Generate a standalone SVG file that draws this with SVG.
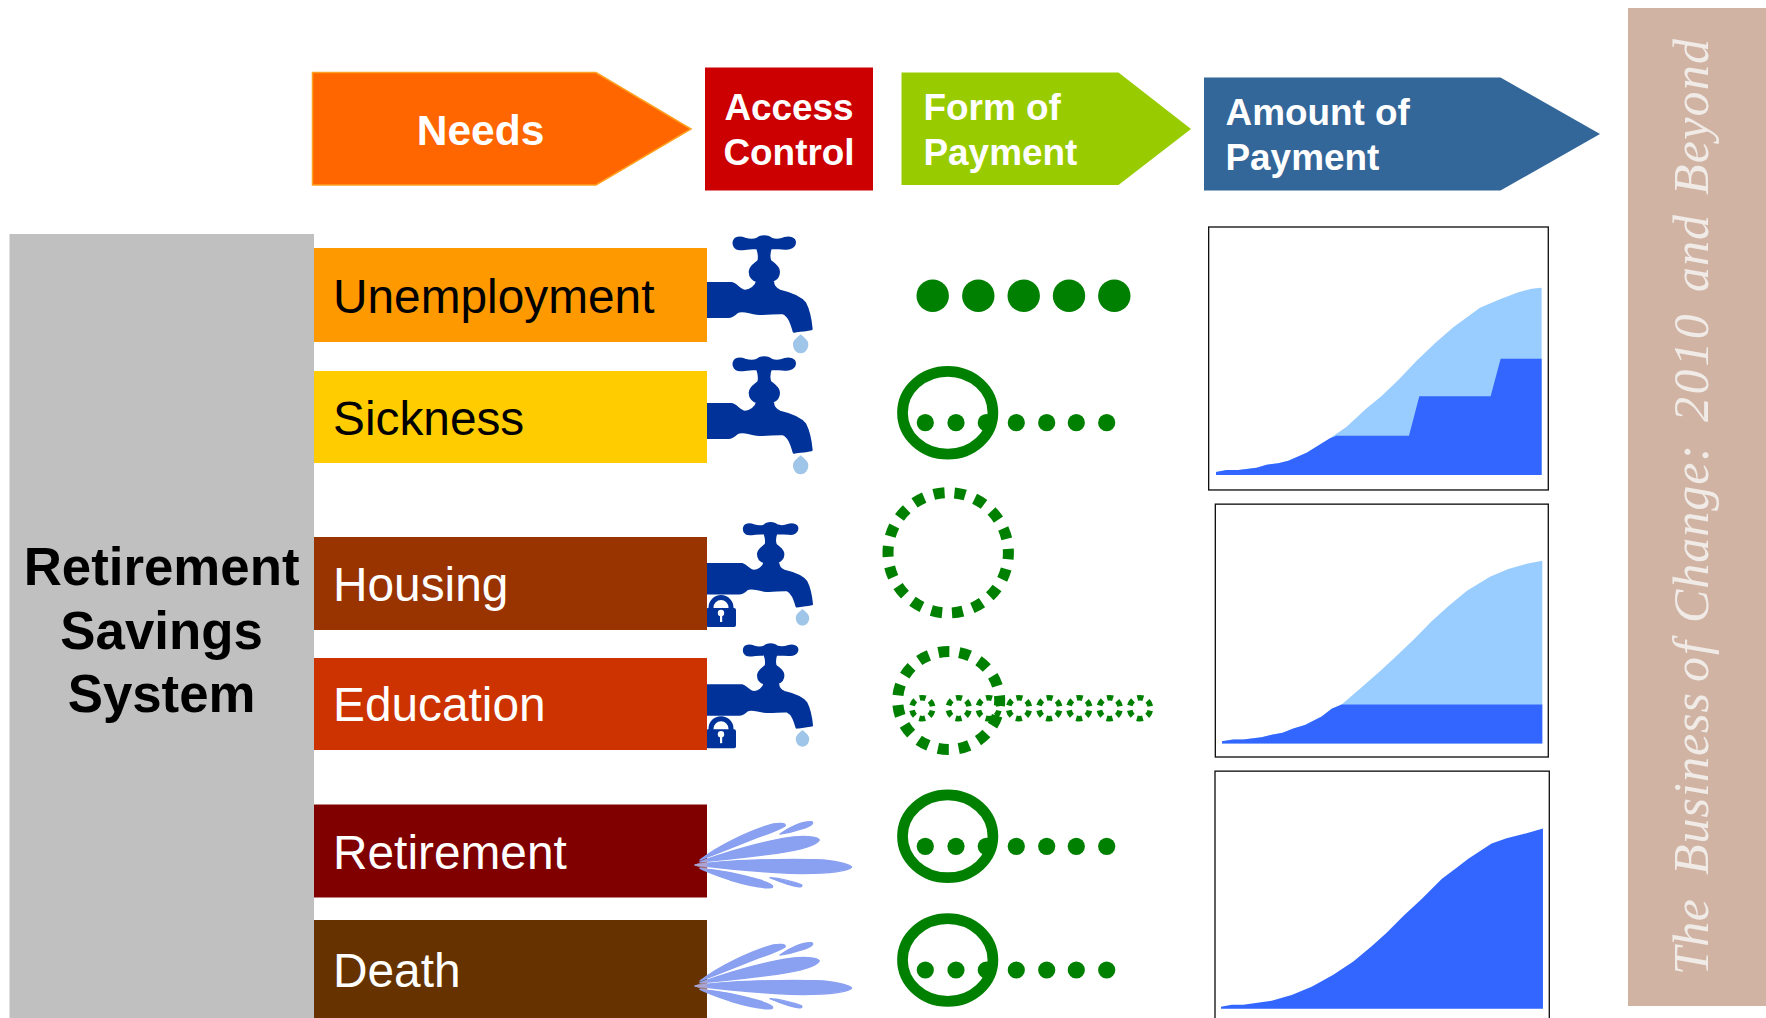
<svg xmlns="http://www.w3.org/2000/svg" xmlns:xlink="http://www.w3.org/1999/xlink" width="1766" height="1018" viewBox="0 0 1766 1018">
<style>
.h{font-family:"Liberation Sans",Arial,sans-serif;font-weight:700;font-size:36.9px;fill:#fff}
.r{font-family:"Liberation Sans",Arial,sans-serif;font-size:47.8px}
.w{fill:#fff}.k{fill:#000}
.frame{fill:#fff;stroke:#111;stroke-width:4}
.lt{fill:#9cf}.dk{fill:#36f}
.g{fill:#008000}
.ring{fill:none;stroke:#008000;stroke-width:10.7}
.dash{fill:none;stroke:#008000;stroke-width:11}
.sd{fill:none;stroke:#008000;stroke-width:5.6;stroke-dasharray:6 5;stroke-dashoffset:8.5}
</style>
<defs>
<filter id="soft" x="-10%" y="-10%" width="120%" height="120%"><feGaussianBlur stdDeviation="0.7"/></filter>
<g id="tap">
<path fill="#003399" stroke="#003399" stroke-width="8" stroke-linejoin="round" filter="url(#soft)" d="M-25,175 L95,175 C110,178 120,198 135,198 C150,198 170,185 172,168 C160,165 150,155 150,140 C150,125 165,118 176,108 C180,95 178,85 172,68 C150,68 135,72 120,72 C105,72 100,60 102,50 C105,38 120,36 135,42 C150,47 165,45 172,42 C180,32 205,32 214,42 C225,46 240,46 255,40 C270,36 284,42 284,52 C284,65 270,72 255,70 C240,68 225,68 212,68 C206,85 205,95 210,108 C222,118 236,125 236,140 C236,155 228,162 218,166 C218,180 222,192 240,198 C270,205 300,215 315,235 C328,260 332,290 334,312 C320,315 295,317 282,319 C275,295 268,272 250,264 C225,262 200,268 170,265 C145,262 125,250 110,262 C100,272 95,275 85,275 L-25,275 Z"/>
<path fill="#9fc5e8" filter="url(#soft)" d="M302,328 C312,338 325,345 325,358 C325,375 314,385 302,385 C290,385 279,375 279,358 C279,345 292,338 302,328 Z"/>
</g>
<g id="lock" filter="url(#soft)">
<path fill="none" stroke="#003399" stroke-width="5" d="M711,612 V607.5 a10,10 0 0 1 20,0 V612"/>
<rect x="706" y="608" width="30" height="19" rx="2" fill="#003399"/>
<circle cx="721" cy="613" r="3.2" fill="#fff"/>
<rect x="720" y="613" width="2.2" height="9" fill="#fff"/>
</g>
<g id="spray">
<g fill="#8aa0f0" stroke="#8aa0f0" stroke-width="4" stroke-linejoin="round" filter="url(#soft)">
<path d="M15,165 C100,150 300,145 400,150 C450,155 485,165 485,172 C470,185 400,192 300,190 C200,185 100,175 15,165 Z"/>
<path d="M30,155 C100,130 200,100 280,85 C340,75 385,80 388,90 C380,105 330,120 260,130 C180,140 100,150 30,155 Z"/>
<path d="M30,150 C80,110 180,60 250,42 C270,38 290,40 285,48 C270,60 220,75 170,95 C120,115 70,135 30,150 Z"/>
<path d="M270,72 C300,50 340,33 365,35 C375,40 360,50 330,58 C310,65 290,70 270,72 Z"/>
<path d="M30,175 C90,180 160,195 210,210 C240,220 255,228 245,233 C220,235 170,225 120,210 C85,198 50,185 30,175 Z"/>
<path d="M240,203 C270,205 310,215 335,225 C340,232 320,232 300,225 C280,218 255,210 240,203 Z"/>
</g>
<path d="M12,165 L52,148 L52,182 Z" fill="#b8a8c8" opacity=".65" filter="url(#soft)"/>
</g>
<g id="ringdots">
<ellipse class="ring" cx="947.7" cy="0" rx="45.2" ry="41.4"/>
<circle class="g" cx="925.3" cy="10" r="8.6"/>
<circle class="g" cx="956" cy="10" r="8.6"/>
<circle class="g" cx="986.3" cy="10" r="8.6"/>
<circle class="g" cx="1016.3" cy="10" r="8.6"/>
<circle class="g" cx="1046.7" cy="10" r="8.6"/>
<circle class="g" cx="1076.3" cy="10" r="8.6"/>
<circle class="g" cx="1106.7" cy="10" r="8.6"/>
</g>
</defs>
<rect width="1766" height="1018" fill="#fff"/>

<g id="tap-unemployment"><use href="#tap" transform="translate(700,225) scale(.3333)"/></g>
<g id="tap-sickness"><use href="#tap" transform="translate(700,346) scale(.3333)"/></g>
<g id="tap-housing"><use href="#tap" transform="translate(714.4,513.2) scale(.2917)"/><use href="#lock"/></g>
<g id="tap-education"><use href="#tap" transform="translate(714.4,634.4) scale(.2917)"/><use href="#lock" transform="translate(0,121.2)"/></g>

<g id="system">
<rect x="9.5" y="234" width="304.5" height="784" fill="#c0c0c0"/>
<text font-family="'Liberation Sans',Arial,sans-serif" font-weight="700" font-size="52.8" text-anchor="middle" fill="#000"><tspan x="161.6" y="584.5">Retirement</tspan><tspan x="161.6" y="648.5">Savings</tspan><tspan x="161.6" y="712">System</tspan></text>
</g>

<g id="header-needs"><path d="M312.5,72.5 H596 L691,129 L596,185 H312.5 Z" fill="#f60" stroke="#ffa020" stroke-width="1.5"/><text class="h" style="font-size:42.5px" x="480.5" y="145" text-anchor="middle">Needs</text></g>
<g id="header-access"><rect x="705" y="67.5" width="168" height="123" fill="#c00"/><text class="h" text-anchor="middle"><tspan x="789" y="120">Access</tspan><tspan x="789" y="165">Control</tspan></text></g>
<g id="header-form"><path d="M901.5,72.5 H1118.5 L1191,129 L1118.5,185 H901.5 Z" fill="#9c0"/><text class="h"><tspan x="923.5" y="120">Form of</tspan><tspan x="923.5" y="165">Payment</tspan></text></g>
<g id="header-amount"><path d="M1204,77.5 H1500.5 L1600,134 L1500.5,190.5 H1204 Z" fill="#369"/><text class="h"><tspan x="1225.5" y="125">Amount of</tspan><tspan x="1225.5" y="170">Payment</tspan></text></g>

<g id="need-unemployment"><rect x="314" y="248" width="393" height="94" fill="#f90"/><text class="r k" x="333" y="313">Unemployment</text></g>
<g id="need-sickness"><rect x="314" y="371" width="393" height="92" fill="#fc0"/><text class="r k" x="333" y="434.8">Sickness</text></g>
<g id="need-housing"><rect x="314" y="537" width="393" height="93" fill="#930"/><text class="r w" x="333" y="600.7">Housing</text></g>
<g id="need-education"><rect x="314" y="658" width="393" height="92" fill="#c30"/><text class="r w" x="333" y="721">Education</text></g>
<g id="need-retirement"><rect x="314" y="804.5" width="393" height="93" fill="#800000"/><text class="r w" x="333" y="869">Retirement</text></g>
<g id="need-death"><rect x="314" y="920" width="393" height="98" fill="#630"/><text class="r w" x="333" y="987">Death</text></g>

<g id="spray-retirement"><use href="#spray" transform="translate(690,810) scale(.3333)"/></g>
<g id="spray-death"><use href="#spray" transform="translate(690,931) scale(.3333)"/></g>

<g id="payment-unemployment">
<circle class="g" cx="932.7" cy="295.7" r="16.2"/><circle class="g" cx="978.3" cy="295.7" r="16.2"/><circle class="g" cx="1023.7" cy="295.7" r="16.2"/><circle class="g" cx="1069" cy="295.7" r="16.2"/><circle class="g" cx="1114.3" cy="295.7" r="16.2"/>
</g>
<g id="payment-sickness"><use href="#ringdots" y="412.7"/></g>
<g id="payment-housing"><circle class="dash" cx="948.2" cy="552.8" r="60.2" stroke-dasharray="11 10" stroke-dashoffset="4.45"/></g>
<g id="payment-education">
<ellipse class="dash" cx="948.7" cy="700.5" rx="51" ry="49" stroke-dasharray="11 9.95" stroke-dashoffset="5.5"/>
<circle class="sd" cx="922.3" cy="708.2" r="10.5"/><circle class="sd" cx="958.7" cy="708.2" r="10.5"/><circle class="sd" cx="988.7" cy="708.2" r="10.5"/><circle class="sd" cx="1019" cy="708.2" r="10.5"/><circle class="sd" cx="1049.3" cy="708.2" r="10.5"/><circle class="sd" cx="1079.3" cy="708.2" r="10.5"/><circle class="sd" cx="1109.7" cy="708.2" r="10.5"/><circle class="sd" cx="1140" cy="708.2" r="10.5"/>
</g>
<g id="payment-retirement"><use href="#ringdots" y="836.3"/></g>
<g id="payment-death"><use href="#ringdots" y="960"/></g>

<g id="chart-1" transform="translate(1190,210) scale(.3333)">
<rect class="frame" x="56" y="51" width="1019" height="789"/>
<path class="lt" d="M78,786 L110,780 145,780 200,773 230,764 265,760 295,752 350,728 420,685 470,650 530,595 575,558 625,510 680,452 735,400 790,352 870,293 930,268 985,247 1025,236 1055,233 V795 H78 Z"/>
<path class="dk" d="M78,786 L110,780 145,780 200,773 230,764 265,760 295,752 350,728 420,685 440,677 657,677 688,559 902,559 932,446 1055,446 V795 H78 Z"/>
</g>
<g id="chart-2" transform="translate(1190,490) scale(.3333,.3367)">
<rect class="frame" x="76" y="42" width="999" height="751"/>
<path class="lt" d="M96,746 L130,741 160,741 215,734 245,727 278,721 310,708 345,698 395,673 425,650 455,637 510,590 570,538 625,488 675,440 725,390 775,345 830,300 900,258 955,235 1010,219 1057,210 V753 H96 Z"/>
<path class="dk" d="M96,746 L130,741 160,741 215,734 245,727 278,721 310,708 345,698 395,673 425,650 455,637 H1057 V753 H96 Z"/>
</g>
<g id="chart-3" transform="translate(1190,490) scale(.3333,.3367)">
<rect class="frame" x="75" y="835" width="1003" height="760"/>
<path class="dk" d="M93,1535 L125,1529 160,1529 245,1517 305,1500 365,1475 430,1440 490,1400 545,1355 590,1315 640,1265 695,1215 755,1155 800,1122 835,1095 905,1050 950,1034 1000,1022 1059,1005 V1541 H93 Z"/>
</g>

<g id="side-panel">
<rect x="1628" y="8" width="138" height="998" fill="#d0b3a3"/>
<text transform="translate(1708,975) rotate(-90)" font-family="'Liberation Serif','Times New Roman',serif" font-style="italic" font-size="50" fill="#f0ebe7"><tspan x="0" letter-spacing=".5">The </tspan><tspan x="100" letter-spacing="1">Business </tspan><tspan x="293" letter-spacing="2">of </tspan><tspan x="352" letter-spacing="1">Change: </tspan><tspan x="553" letter-spacing="2.6">2010 </tspan><tspan x="683" letter-spacing="1">and </tspan><tspan x="780" letter-spacing="1.2">Beyond</tspan></text>
</g>
</svg>
